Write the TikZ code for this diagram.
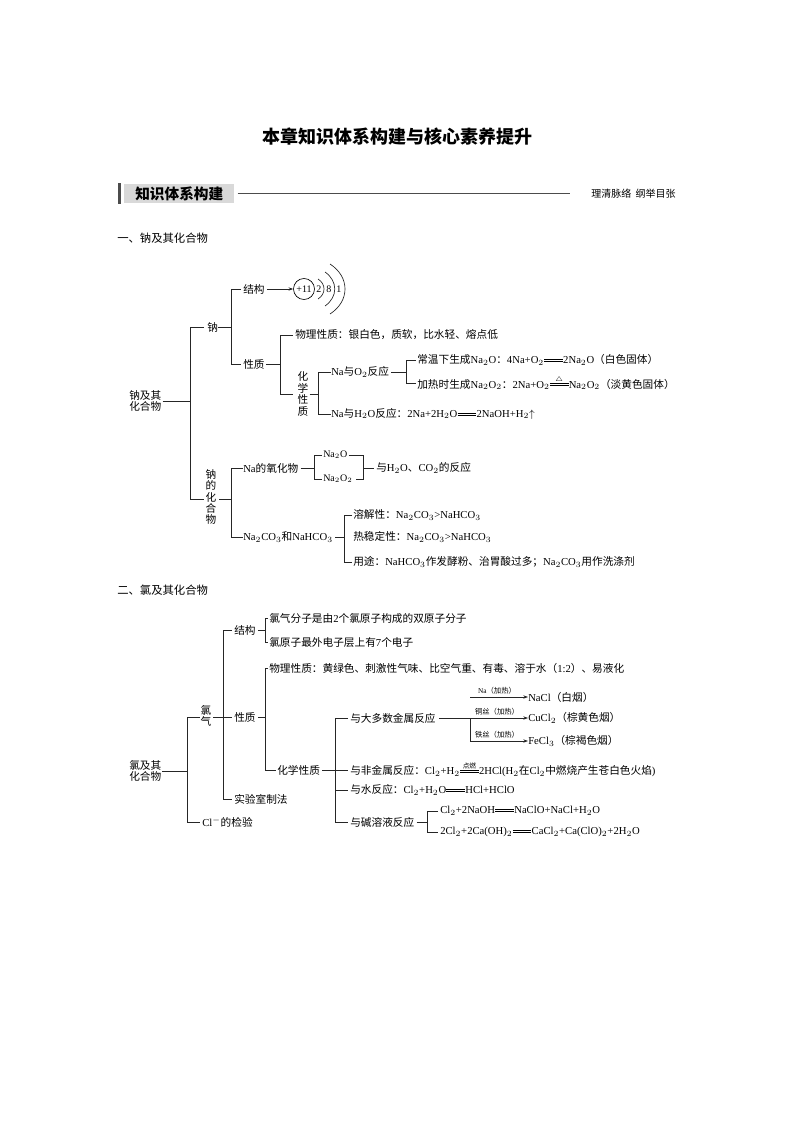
\documentclass[tikz,border=0pt]{standalone}
\usepackage{fontspec}
\setmainfont{Liberation Serif}
\newfontfamily\cjk{Noto Sans CJK SC}
\usetikzlibrary{arrows.meta}
\newcommand\m[1]{{\rmfamily #1}}
\newcommand\eqn[1]{\tikz[baseline=0pt,x=1pt,y=1pt]{\path (0,0) rectangle (14,1); \draw[line width=0.4pt] (0,3.5)--(14,3.5) (0,2.0)--(14,2.0); \node[above,inner sep=0.3pt,font=\fontsize{5}{5}\selectfont] at (7,3.5){#1};}}
\begin{document}
\begin{tikzpicture}[x=0.75pt,y=-0.75pt,
  t/.style={anchor=west,inner sep=0pt,font=\cjk\fontsize{8}{9.6}\selectfont},
  vt/.style={inner sep=0pt,align=center,font=\cjk\fontsize{8}{8.6}\selectfont},
  sm/.style={inner sep=0pt,font=\cjk\fontsize{5.5}{6}\selectfont},
  ln/.style={line width=0.5pt,draw=black!85},
  arr/.style={ln,-{Stealth[length=3.5pt,width=2.5pt]}}]
\useasboundingbox (0,0) rectangle (794,1123);
% title and header
\node[font=\cjk\bfseries\fontsize{13.5}{14}\selectfont] (title) at (397,137) {本章知识体系构建与核心素养提升};
\fill[black!70] (118,183) rectangle (121,204);
\node[anchor=west,fill=black!15,minimum height=19.5*0.75pt,minimum width=110*0.75pt,inner sep=0pt,font=\cjk\bfseries\fontsize{11}{12}\selectfont] (hd) at (124,193.5) {知识体系构建};
\node[anchor=east,inner sep=0pt,font=\cjk\fontsize{7.5}{8}\selectfont] (hr) at (676,194) {理清脉络\ \ 纲举目张};
\draw[line width=0.6pt,black!70] (hd.east) ++(3,0) -- (570,193.5);
\node[t,font=\cjk\fontsize{8.5}{9}\selectfont] (s1) at (117,238) {一、钠及其化合物};
\node[t,font=\cjk\fontsize{8.5}{9}\selectfont] (s2) at (117,590) {二、氯及其化合物};

% ===== section 1 =====
\node[vt,anchor=west] (r1) at (129,401) {钠及其\\化合物};
\draw[ln] (r1.east) ++(1,0) -- (190,401);
\draw[ln] (204,327) -| (190,499) -- (204,499);
\node[t] (na) at (207,327) {钠};
\draw[ln] (218,327) -- (231,327);
\draw[ln] (241,289) -| (231,364) -- (241,364);
\node[t] (jg) at (243,289) {结构};
\node[circle,draw,line width=0.5pt,inner sep=0.5pt,minimum size=21*0.75pt,font=\m{}\fontsize{7.5}{8}\selectfont] (atom) at (304,289) {\m{+11}};
\draw[arr] (jg.east) ++(2,0) -- (atom.west);
\node[t,font=\rmfamily\fontsize{7.5}{8}\selectfont] (e2) at (316,289) {2};
\node[t,font=\rmfamily\fontsize{7.5}{8}\selectfont] (e8) at (326,289) {8};
\node[t,font=\rmfamily\fontsize{7.5}{8}\selectfont] (e1) at (336,289) {1};
\draw[ln] (318,279) .. controls (326,284) and (326,294) .. (318,299);
\draw[ln] (325,272) .. controls (338,281) and (338,297) .. (325,306);
\draw[ln] (330,264) .. controls (350,277) and (350,301) .. (330,314);
\node[t] (xz) at (243,364) {性质};
\draw[ln] (xz.east) ++(1,0) -- (280,364);
\draw[ln] (293,335) -| (280,394) -- (293,394);
\node[t] (wl) at (295,335) {物理性质：银白色，质软，比水轻、熔点低};
\node[vt] (hx) at (303,394) {化\\学\\性\\质};
\draw[ln] (hx.east) ++(1,0) -- (318,394);
\draw[ln] (331,372) -| (318,414) -- (331,414);
\node[t] (nao) at (331,372) {\m{Na}与\m{O$_2$}反应};
\draw[ln] (nao.east) ++(2,0) -- (406,372);
\draw[ln] (416,360) -| (406,383) -- (416,383);
\node[t] (cw) at (417,360) {常温下生成\m{Na$_2$O}：\m{4Na+O$_2$\eqn{}2Na$_2$O}（白色固体）};
\node[t] (jr) at (417,383) {加热时生成\m{Na$_2$O$_2$}：\m{2Na+O$_2$\eqn{$\triangle$}Na$_2$O$_2$}（淡黄色固体）};
\node[t] (nah) at (331,414) {\m{Na}与\m{H$_2$O}反应：\m{2Na+2H$_2$O\eqn{}2NaOH+H$_2$$\uparrow$}};
\node[vt] (nhw) at (211,497) {钠\\的\\化\\合\\物};
\draw[ln] (219,499) -- (231,499);
\draw[ln] (243,468) -| (231,537) -- (243,537);
\node[t] (yhw) at (243,468) {\m{Na}的氧化物};
\draw[ln] (yhw.east) ++(2,0) -- (314,468);
\draw[ln] (322,455) -| (314,479) -- (322,479);
\node[t,font=\rmfamily\fontsize{7.5}{8}\selectfont] (n2o) at (323,455) {Na$_2$O};
\node[t,font=\rmfamily\fontsize{7.5}{8}\selectfont] (n2o2) at (323,479) {Na$_2$O$_2$};
\draw[ln] (n2o.east) ++(1,0) -| (363,479) -- (356,479);
\draw[ln] (363,468) -- (374,468);
\node[t] (yh) at (376,468) {与\m{H$_2$O}、\m{CO$_2$}的反应};
\node[t] (tsn) at (243,537) {\m{Na$_2$CO$_3$}和\m{NaHCO$_3$}};
\draw[ln] (tsn.east) ++(2,0) -- (344,537);
\draw[ln] (352,515) -| (344,562) -- (352,562);
\node[t] (rj) at (353,515) {溶解性：\m{Na$_2$CO$_3$>NaHCO$_3$}};
\node[t] (rw) at (353,537) {热稳定性：\m{Na$_2$CO$_3$>NaHCO$_3$}};
\node[t] (yt) at (353,562) {用途：\m{NaHCO$_3$}作发酵粉、治胃酸过多；\m{Na$_2$CO$_3$}用作洗涤剂};

% ===== section 2 =====
\node[vt,anchor=west] (r2) at (129,771) {氯及其\\化合物};
\draw[ln] (162,771) -- (187,771);
\draw[ln] (200,717) -| (187,822) -- (200,822);
\node[vt] (lq) at (206,716) {氯\\气};
\draw[ln] (213,717) -- (223,717);
\draw[ln] (232,630) -| (223,799) -- (232,799);
\draw[ln] (223,717) -- (232,717);
\node[t] (jg2) at (234,630) {结构};
\draw[ln] (jg2.east) ++(2,0) -- (265,630);
\draw[ln] (268,618) -| (265,642) -- (268,642);
\node[t] (fz) at (269,618) {氯气分子是由\m{2}个氯原子构成的双原子分子};
\node[t] (yz) at (269,642) {氯原子最外电子层上有\m{7}个电子};
\node[t] (xz2) at (234,717) {性质};
\draw[ln] (xz2.east) ++(2,0) -- (265,717);
\draw[ln] (268,668) -| (265,770) -- (276,770);
\node[t] (wl2) at (269,668) {物理性质：黄绿色、刺激性气味、比空气重、有毒、溶于水（\m{1:2}）、易液化};
\node[t] (hx2) at (277,770) {化学性质};
\draw[ln] (hx2.east) ++(2,0) -- (335,770);
\draw[ln] (348,718) -| (335,822) -- (348,822);
\draw[ln] (335,770) -- (348,770);
\draw[ln] (335,790) -- (348,790);
\node[t] (js) at (350,718) {与大多数金属反应};
\draw[ln] (js.east) ++(3,0) -- (470,718);
\node[t] (nacl) at (528,697) {\m{NaCl}（白烟）};
\node[t] (cucl) at (528,718) {\m{CuCl$_2$}（棕黄色烟）};
\node[t] (fecl) at (528,741) {\m{FeCl$_3$}（棕褐色烟）};
\draw[arr] (470,697) |- (nacl.west);
\draw[arr] (470,718) -- (cucl.west);
\draw[arr] (470,718) |- (fecl.west);
\node[sm,anchor=south] at (497,694) {\m{Na}（加热）};
\node[sm,anchor=south] at (497,715) {铜丝（加热）};
\node[sm,anchor=south] at (497,738) {铁丝（加热）};
\node[t] (fj) at (350,770) {与非金属反应：\m{Cl$_2$+H$_2$\eqn{\cjk 点燃}2HCl(H$_2$}在\m{Cl$_2$}中燃烧产生苍白色火焰\m{)}};
\node[t] (ys) at (350,790) {与水反应：\m{Cl$_2$+H$_2$O\eqn{}HCl+HClO}};
\node[t] (jy) at (350,822) {与碱溶液反应};
\draw[ln] (jy.east) ++(2,0) -- (427,822);
\draw[ln] (438,811) -| (427,832) -- (438,832);
\node[t] (e1x) at (440,811) {\m{Cl$_2$+2NaOH\eqn{}NaClO+NaCl+H$_2$O}};
\node[t] (e2x) at (440,832) {\m{2Cl$_2$+2Ca(OH)$_2$\eqn{}CaCl$_2$+Ca(ClO)$_2$+2H$_2$O}};
\node[t] (sy) at (234,799) {实验室制法};
\node[t] (cl) at (202,822) {\m{Cl$^-$}的检验};
\end{tikzpicture}
\end{document}
